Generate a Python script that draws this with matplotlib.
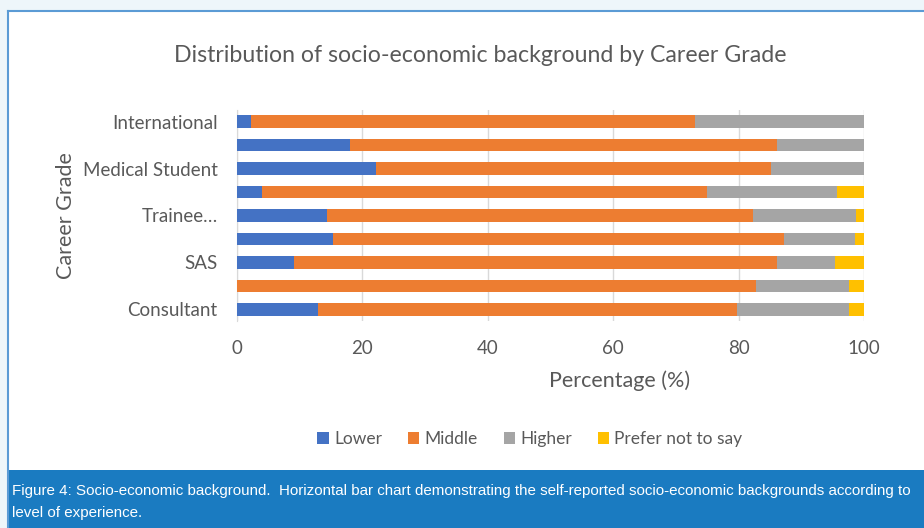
import matplotlib.pyplot as plt
from matplotlib.patches import Rectangle
from matplotlib import font_manager

# data (percent of each career grade), top to bottom
grades = ["International", "", "Medical Student", "", "Trainee\u2026", "", "SAS", "", "Consultant"]
lower = [2.3, 18.1, 22.2, 4.0, 14.4, 15.3, 9.1, 0.0, 12.9]
middle = [70.7, 68.1, 62.9, 70.9, 67.9, 71.9, 77.0, 82.7, 66.8]
higher = [27.0, 13.8, 14.9, 20.8, 16.4, 11.3, 9.3, 14.9, 17.9]
prefer = [0.0, 0.0, 0.0, 4.3, 1.3, 1.5, 4.6, 2.4, 2.4]
series_names = ["Lower", "Middle", "Higher", "Prefer not to say"]
colors = ["#4472C4", "#ED7D31", "#A5A5A5", "#FFC000"]
xticks = [0, 20, 40, 60, 80, 100]

names = {f.name for f in font_manager.fontManager.ttflist}
font = "Lato" if "Lato" in names else "DejaVu Sans"
plt.rcParams['font.family'] = [font, 'DejaVu Sans']
txt = "#595959"

fig = plt.figure(figsize=(9.24, 5.28), dpi=100)
fig.patch.set_facecolor("white")

# page background, panel border and caption band
fig.patches.append(Rectangle((0, 518 / 528), 1, 10 / 528, transform=fig.transFigure,
                             facecolor="#EEF6FA", edgecolor="none", zorder=0))
fig.patches.append(Rectangle((0, 0), 8 / 924, 1, transform=fig.transFigure,
                             facecolor="#EEF6FA", edgecolor="none", zorder=0))
fig.add_artist(plt.Line2D([8 / 924, 1], [517.5 / 528, 517.5 / 528], color="#5B9BD5", lw=1.5))
fig.add_artist(plt.Line2D([8 / 924, 8 / 924], [0, 517.5 / 528], color="#5B9BD5", lw=1.5))
fig.patches.append(Rectangle((8 / 924, 0), 1, 58 / 528, transform=fig.transFigure,
                             facecolor="#1A7BC1", edgecolor="none", zorder=1))

ax = fig.add_axes([237 / 924, 207 / 528, 627 / 924, 211 / 528])
y = list(range(len(grades)))
left = [0.0] * len(grades)
for vals, name, c in zip([lower, middle, higher, prefer], series_names, colors):
    ax.barh(y, vals, left=left, height=0.54, color=c, label=name, zorder=3)
    left = [a + b for a, b in zip(left, vals)]

ax.set_xlim(0, 100)
ax.set_ylim(len(grades) - 0.5, -0.5)
ax.set_xticks(xticks)
ax.set_yticks(y)
ax.set_yticklabels(grades)
ax.tick_params(axis="both", length=0, colors=txt, labelsize=13.5)
ax.tick_params(axis="x", pad=14)
ax.tick_params(axis="y", pad=14)
ax.grid(axis="x", color="#D9D9D9", lw=1, zorder=0)
for s in ["top", "right", "bottom"]:
    ax.spines[s].set_visible(False)
ax.spines["left"].set_color("#D9D9D9")

fig.text(480 / 924, 1 - 55 / 528, "Distribution of socio-economic background by Career Grade",
         ha="center", va="center", fontsize=16.7, color=txt)
fig.text(620 / 924, 1 - 381 / 528, "Percentage (%)", ha="center", va="center",
         fontsize=15.5, color=txt)
fig.text(66 / 924, 1 - 216 / 528, "Career Grade", ha="center", va="center",
         rotation=90, fontsize=15.5, color=txt)

fig.legend(loc="center", bbox_to_anchor=(530 / 924, 1 - 439 / 528), ncol=4, frameon=False,
           fontsize=12.5, handlelength=0.65, handleheight=0.65, handletextpad=0.3,
           columnspacing=1.5, labelcolor=txt)

cap1 = ("Figure 4: Socio-economic background.  Horizontal bar chart demonstrating "
        "the self-reported socio-economic backgrounds according to")
cap2 = "level of experience."
fig.text(12 / 924, 1 - 491 / 528, cap1, ha="left", va="center", color="white",
         fontsize=10.9, family="Liberation Sans")
fig.text(12 / 924, 1 - 513 / 528, cap2, ha="left", va="center", color="white",
         fontsize=10.9, family="Liberation Sans")

fig.savefig("out.png", dpi=100)
